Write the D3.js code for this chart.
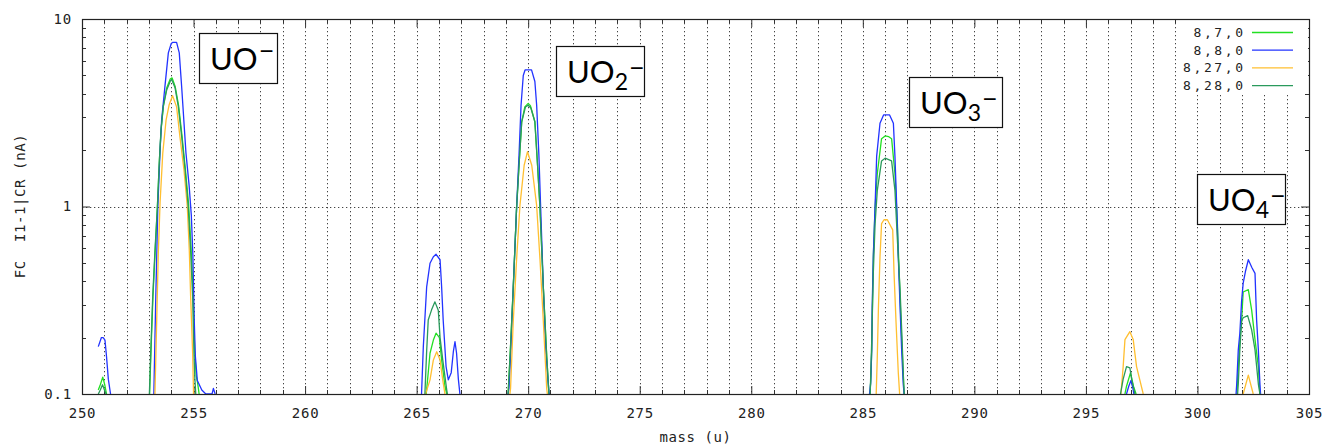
<!DOCTYPE html>
<html><head><meta charset="utf-8">
<script src="https://cdn.jsdelivr.net/npm/d3@7"></script>
<style>
body{margin:0;background:#fff;}
svg{display:block;}
.mono{font-family:"DejaVu Sans Mono",monospace;fill:#222;}
.ann{font-family:Lato,"Open Sans",sans-serif;fill:#000;}
</style></head><body>
<svg id="chart" width="1332" height="446"></svg>
<script>
// ---------------- DATA ----------------
const seriesNames = ["8,7,0", "8,8,0", "8,27,0", "8,28,0"];
const xTickValues = [250, 255, 260, 265, 270, 275, 280, 285, 290, 295, 300, 305];
const yTickValues = [0.1, 1, 10];
const yTickLabels = ["0.1", "1", "10"];
const xLabel = "mass (u)";
const yLabel = "FC  I1-1|CR (nA)";
const annotations = [
  {base: "UO", sub: "", sup: "\u2212"},
  {base: "UO", sub: "2", sup: "\u2212"},
  {base: "UO", sub: "3", sup: "\u2212"},
  {base: "UO", sub: "4", sup: "\u2212"}
];
// [mass, value] pairs; null separates peaks
const s870 = [
  [250.73,0.105],[250.82,0.112],[250.93,0.123],[251.02,0.112],[251.1,0.1], null,
  [253.03,0.1],[253.09,0.165],[253.18,0.33],[253.28,0.58],[253.38,1.0],[253.47,1.77],[253.55,2.6],[253.65,3.45],[253.8,4.3],[253.96,4.8],[254.04,4.85],[254.18,4.35],[254.33,3.45],[254.48,2.4],[254.63,1.6],[254.78,1.02],[254.89,0.6],[254.98,0.34],[255.05,0.17],[255.12,0.125],[255.18,0.115],[255.25,0.1], null,
  [265.43,0.1],[265.52,0.13],[265.6,0.165],[265.75,0.194],[265.87,0.211],[266.02,0.2],[266.12,0.152],[266.27,0.11],[266.35,0.1], null,
  [269.1,0.1],[269.2,0.17],[269.33,0.37],[269.48,0.98],[269.59,1.66],[269.71,2.83],[269.85,3.4],[270.0,3.55],[270.1,3.45],[270.3,2.83],[270.42,1.66],[270.53,0.98],[270.68,0.37],[270.83,0.16],[270.93,0.1], null,
  [285.32,0.1],[285.36,0.12],[285.4,0.172],[285.43,0.29],[285.47,0.54],[285.55,1.0],[285.65,1.5],[285.84,2.3],[286.0,2.38],[286.15,2.36],[286.29,2.3],[286.44,1.5],[286.55,0.81],[286.63,0.44],[286.71,0.24],[286.81,0.13],[286.85,0.1], null,
  [296.75,0.1],[296.82,0.11],[297.0,0.13],[297.13,0.11],[297.25,0.1], null,
  [301.77,0.1],[301.83,0.14],[301.9,0.19],[301.98,0.25],[302.05,0.35],[302.28,0.36],[302.43,0.28],[302.58,0.195],[302.73,0.14],[302.8,0.1]
];
const s880 = [
  [250.73,0.179],[250.87,0.2],[250.95,0.2],[251.03,0.194],[251.1,0.158],[251.18,0.12],[251.28,0.1], null,
  [253.22,0.1],[253.3,0.3],[253.4,1.0],[253.5,2.0],[253.57,2.9],[253.72,4.4],[253.87,6.6],[254.0,7.4],[254.06,7.5],[254.24,7.5],[254.36,6.6],[254.47,4.3],[254.66,1.93],[254.8,1.3],[254.9,0.9],[254.97,0.55],[255.03,0.25],[255.08,0.16],[255.17,0.118],[255.37,0.105],[255.55,0.1],[255.7,0.1],[255.83,0.1],[255.89,0.107],[255.97,0.1], null,
  [265.22,0.1],[265.3,0.179],[265.45,0.373],[265.6,0.498],[265.75,0.54],[265.87,0.556],[266.05,0.52],[266.12,0.373],[266.19,0.248],[266.32,0.14],[266.42,0.119],[266.55,0.13],[266.65,0.17],[266.72,0.19],[266.79,0.165],[266.87,0.12],[266.94,0.1], null,
  [269.1,0.1],[269.14,0.107],[269.23,0.18],[269.33,0.366],[269.48,0.98],[269.59,1.88],[269.68,3.47],[269.78,5.0],[269.86,5.35],[270.15,5.35],[270.3,4.64],[270.38,3.47],[270.48,1.88],[270.56,0.98],[270.68,0.366],[270.78,0.18],[270.87,0.126],[270.93,0.103],[270.95,0.1], null,
  [285.3,0.1],[285.35,0.114],[285.4,0.172],[285.42,0.29],[285.47,0.54],[285.55,1.0],[285.62,1.85],[285.77,2.78],[285.93,3.08],[286.2,3.08],[286.37,2.78],[286.44,1.85],[286.52,1.0],[286.59,0.54],[286.67,0.29],[286.74,0.172],[286.81,0.114],[286.85,0.1], null,
  [296.82,0.1],[296.92,0.11],[297.02,0.118],[297.1,0.108],[297.15,0.1], null,
  [301.73,0.1],[301.76,0.113],[301.83,0.172],[301.9,0.211],[301.98,0.315],[302.05,0.39],[302.15,0.45],[302.28,0.52],[302.45,0.47],[302.58,0.44],[302.65,0.25],[302.73,0.172],[302.8,0.113],[302.83,0.1]
];
const s8270 = [
  [253.27,0.1],[253.35,0.25],[253.42,0.56],[253.5,1.05],[253.62,1.92],[253.77,2.9],[253.91,3.5],[254.06,3.9],[254.24,3.4],[254.39,2.35],[254.57,1.57],[254.72,1.0],[254.81,0.58],[254.87,0.33],[254.96,0.165],[255.0,0.1], null,
  [265.4,0.1],[265.6,0.119],[265.75,0.152],[265.9,0.168],[266.05,0.152],[266.17,0.119],[266.27,0.1], null,
  [269.18,0.1],[269.21,0.107],[269.33,0.243],[269.48,0.52],[269.63,1.01],[269.82,1.66],[269.97,1.96],[270.16,1.66],[270.38,1.01],[270.53,0.52],[270.68,0.243],[270.83,0.107],[270.86,0.1], null,
  [285.6,0.1],[285.65,0.16],[285.7,0.29],[285.77,0.54],[285.84,0.81],[285.95,0.85],[286.1,0.85],[286.34,0.75],[286.4,0.44],[286.49,0.24],[286.59,0.13],[286.65,0.1], null,
  [296.57,0.1],[296.67,0.14],[296.75,0.195],[296.97,0.215],[297.12,0.195],[297.27,0.14],[297.57,0.1], null,
  [302.05,0.1],[302.28,0.126],[302.5,0.1]
];
const s8280 = [
  [250.73,0.1],[250.82,0.105],[250.92,0.112],[251.02,0.104],[251.08,0.1], null,
  [253.02,0.1],[253.08,0.165],[253.17,0.33],[253.27,0.58],[253.38,1.0],[253.47,1.77],[253.54,2.55],[253.64,3.4],[253.8,4.2],[253.97,4.7],[254.02,4.75],[254.17,4.3],[254.32,3.4],[254.47,2.35],[254.62,1.57],[254.76,1.0],[254.87,0.58],[254.96,0.33],[255.02,0.165],[255.06,0.12],[255.1,0.1], null,
  [265.37,0.1],[265.45,0.17],[265.52,0.248],[265.67,0.281],[265.82,0.31],[265.97,0.28],[266.05,0.2],[266.17,0.152],[266.35,0.105],[266.38,0.1], null,
  [269.1,0.1],[269.2,0.17],[269.33,0.366],[269.48,0.98],[269.59,1.66],[269.71,2.83],[269.88,3.4],[270.0,3.47],[270.12,3.35],[270.3,2.83],[270.42,1.66],[270.53,0.98],[270.68,0.366],[270.83,0.16],[270.93,0.1], null,
  [285.33,0.1],[285.4,0.194],[285.47,0.44],[285.55,0.81],[285.65,1.22],[285.84,1.75],[286.0,1.81],[286.29,1.75],[286.44,1.22],[286.55,0.66],[286.67,0.36],[286.76,0.194],[286.83,0.114],[286.86,0.1], null,
  [296.55,0.1],[296.67,0.12],[296.82,0.14],[296.97,0.138],[297.05,0.12],[297.2,0.1], null,
  [301.8,0.1],[301.83,0.113],[301.9,0.172],[301.98,0.245],[302.05,0.255],[302.25,0.262],[302.43,0.22],[302.58,0.172],[302.73,0.113],[302.8,0.1]
];
const seriesData = [s870, s880, s8270, s8280];

// ---------------- STYLE / LAYOUT ----------------
const colors = ["#22e022", "#2233ff", "#ffbf30", "#2a9a5c"];
const M = {left: 82, right: 1309, top: 19, bottom: 394};
const svg = d3.select("#chart");
const x = d3.scaleLinear().domain([250, 305]).range([M.left, M.right]);
const y = d3.scaleLog().domain([0.1, 10]).range([M.bottom, M.top]);

svg.append("defs").append("clipPath").attr("id", "clip")
  .append("rect").attr("x", M.left).attr("y", M.top)
  .attr("width", M.right - M.left).attr("height", M.bottom - M.top);

// grid
const grid = svg.append("g").attr("stroke", "#444").attr("stroke-width", 1).attr("stroke-dasharray", "1.3,2.7");
d3.range(251, 305).forEach(v => {
  grid.append("line").attr("x1", Math.round(x(v)) + 0.5).attr("x2", Math.round(x(v)) + 0.5)
    .attr("y1", M.top).attr("y2", M.bottom);
});
grid.append("line").attr("x1", M.left).attr("x2", M.right)
  .attr("y1", Math.round(y(1)) + 0.5).attr("y2", Math.round(y(1)) + 0.5);

// axes with inward ticks
const minorX = d3.range(251, 305).filter(v => v % 5 !== 0);
const tickG = svg.append("g").attr("stroke", "#333").attr("stroke-width", 1);
minorX.forEach(v => {
  const px = Math.round(x(v)) + 0.5;
  tickG.append("line").attr("x1", px).attr("x2", px).attr("y1", M.bottom).attr("y2", M.bottom - 4);
  tickG.append("line").attr("x1", px).attr("x2", px).attr("y1", M.top).attr("y2", M.top + 4);
});
const minorY = y.ticks().filter(v => !yTickValues.some(t => Math.abs(t - v) < 1e-9));
minorY.forEach(v => {
  const py = Math.round(y(v)) + 0.5;
  tickG.append("line").attr("x1", M.left).attr("x2", M.left + 4).attr("y1", py).attr("y2", py);
  tickG.append("line").attr("x1", M.right).attr("x2", M.right - 4).attr("y1", py).attr("y2", py);
});

const xAxis = svg.append("g").attr("transform", `translate(0,${M.bottom})`)
  .call(d3.axisBottom(x).tickValues(xTickValues).tickFormat(d3.format("d")).tickSize(-8).tickPadding(14));
const xAxisTop = svg.append("g").attr("transform", `translate(0,${M.top})`)
  .call(d3.axisTop(x).tickValues(xTickValues).tickFormat("").tickSize(-8));
const yAxis = svg.append("g").attr("transform", `translate(${M.left},0)`)
  .call(d3.axisLeft(y).tickValues(yTickValues).tickFormat((d, i) => yTickLabels[i]).tickSize(-8).tickPadding(10));
const yAxisR = svg.append("g").attr("transform", `translate(${M.right},0)`)
  .call(d3.axisRight(y).tickValues(yTickValues).tickFormat("").tickSize(-8));
[xAxis, xAxisTop, yAxis, yAxisR].forEach(g => {
  g.select(".domain").remove();
  g.selectAll(".tick line").attr("stroke", "#333");
  g.selectAll("text").attr("class", "mono").attr("font-size", 14).attr("fill", "#222")
    .style("font-family", '"DejaVu Sans Mono",monospace').style("letter-spacing", "0.8px");
});

// legend background
svg.append("rect").attr("x", 1180).attr("y", M.top + 1).attr("width", M.right - 1181).attr("height", 73).attr("fill", "#fff");

// annotation boxes
const annBoxes = [
  {x: 199, y: 33, w: 78, h: 50},
  {x: 556, y: 46, w: 88, h: 50},
  {x: 909, y: 77, w: 93, h: 50},
  {x: 1197, y: 174, w: 88, h: 50}
];
annotations.forEach((a, i) => {
  const b = annBoxes[i];
  const g = svg.append("g");
  g.append("rect").attr("x", b.x + 0.5).attr("y", b.y + 0.5).attr("width", b.w).attr("height", b.h)
    .attr("fill", "#fff").attr("stroke", "#111").attr("stroke-width", 1.2);
  const t = g.append("text").attr("class", "ann").attr("x", b.x + 11).attr("y", b.y + 37).attr("font-size", 31);
  t.append("tspan").text(a.base);
  if (a.sub) t.append("tspan").attr("font-size", 23).attr("dy", 7).text(a.sub);
  t.append("tspan").attr("font-size", 27).attr("dx", 1).attr("dy", a.sub ? -13 : -10).text(a.sup);
});

// curves
const line = d3.line().defined(d => d !== null).x(d => x(d[0])).y(d => y(d[1]));
const curves = svg.append("g").attr("clip-path", "url(#clip)");
seriesData.forEach((s, i) => {
  curves.append("path").attr("d", line(s)).attr("fill", "none")
    .attr("stroke", colors[i]).attr("stroke-width", 1.3).attr("stroke-linejoin", "round");
});

// frame
svg.append("rect").attr("x", M.left + 0.5).attr("y", M.top + 0.5)
  .attr("width", M.right - M.left).attr("height", M.bottom - M.top)
  .attr("fill", "none").attr("stroke", "#222").attr("stroke-width", 1.2);

// legend
seriesNames.forEach((n, i) => {
  svg.append("text").attr("class", "mono").attr("x", 1243 + 2.6).attr("y", 37 + i * 17.7)
    .attr("text-anchor", "end").attr("font-size", 13).style("letter-spacing", "2.6px").text(n);
  svg.append("line").attr("x1", 1252).attr("x2", 1293)
    .attr("y1", 32.5 + i * 17.7).attr("y2", 32.5 + i * 17.7)
    .attr("stroke", colors[i]).attr("stroke-width", 1.3);
});

// axis labels
svg.append("text").attr("class", "mono").attr("x", (M.left + M.right) / 2).attr("y", 442)
  .attr("text-anchor", "middle").attr("font-size", 14).style("letter-spacing", "0.6px").text(xLabel);
svg.append("text").attr("class", "mono").attr("transform", "translate(25,206) rotate(-90)")
  .attr("text-anchor", "middle").attr("font-size", 14).style("letter-spacing", "0.6px")
  .style("white-space", "pre").text(yLabel);
</script>
</body></html>
